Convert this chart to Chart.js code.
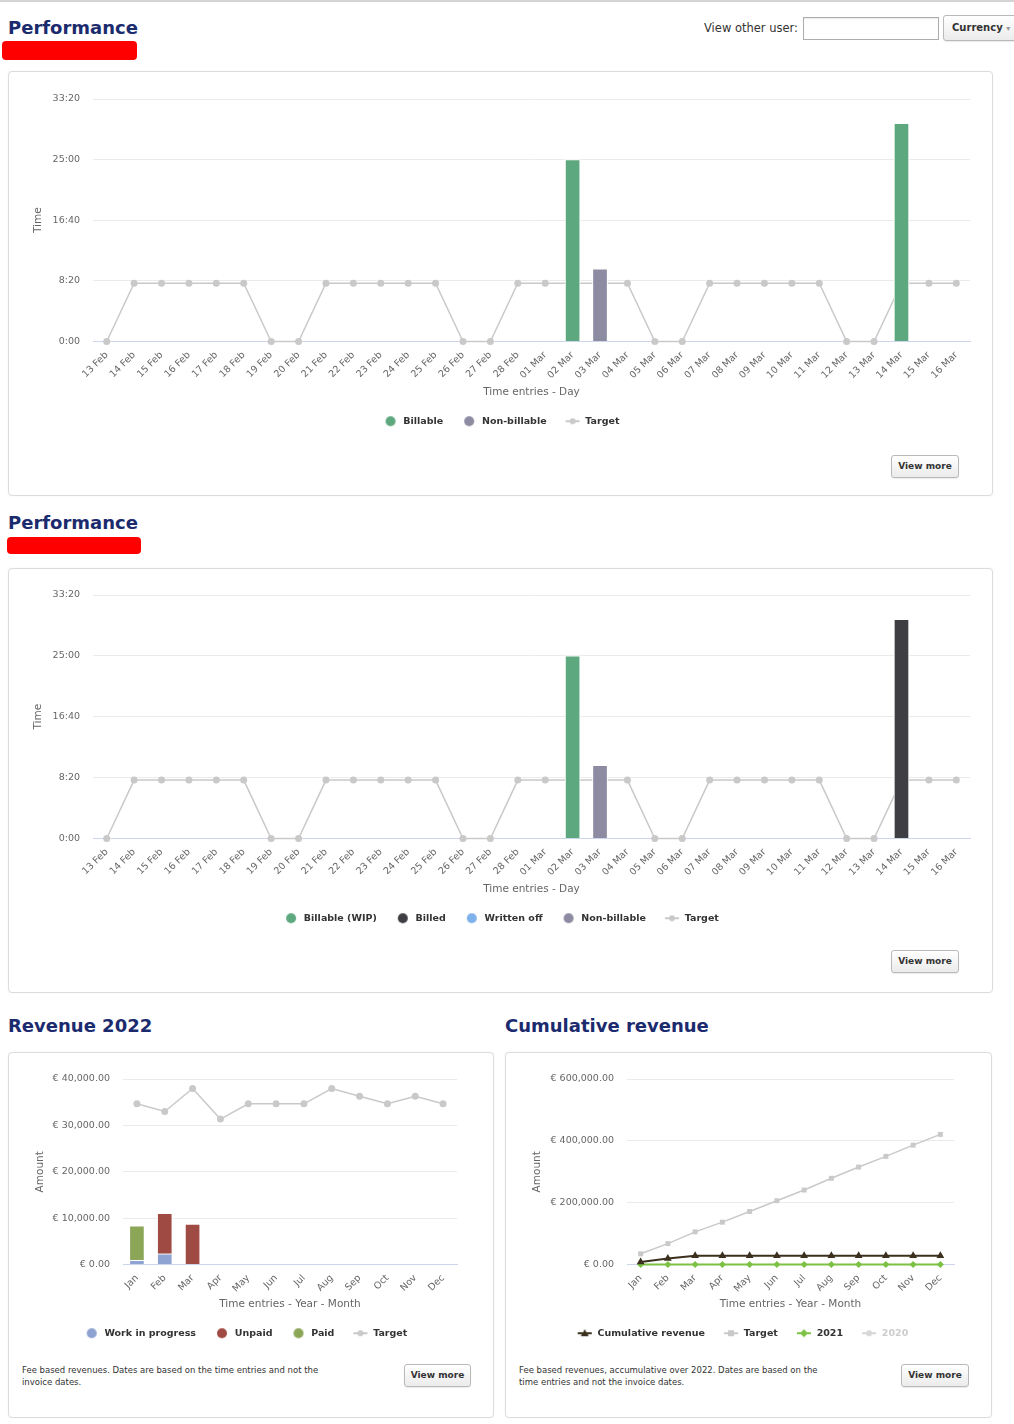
<!DOCTYPE html>
<html>
<head>
<meta charset="utf-8">
<script src="https://cdn.jsdelivr.net/npm/chart.js@4.4.1/dist/chart.umd.min.js"></script>
<style>
body { margin: 0; background: #fff; font-family: 'DejaVu Sans', sans-serif; }
#page { position: relative; width: 1014px; height: 1424px; overflow: hidden; }
.topline { position: absolute; left: 0; top: 0; width: 1014px; height: 2px; background: #d4d4d4; }
.h { position: absolute; font: bold 18px/18px 'DejaVu Sans', sans-serif; color: #1b2b6e; white-space: nowrap; }
.redact { position: absolute; background: #ff0000; border-radius: 4px; }
.panel { position: absolute; box-sizing: border-box; border: 1px solid #dcdcdc; border-radius: 4px; box-shadow: 0 0 2px rgba(0,0,0,0.06); background: #fff; }
.box { position: absolute; }
.btn { position: absolute; box-sizing: border-box; border: 1px solid #b9b9b9; border-radius: 3px; background: linear-gradient(#ffffff, #ebebeb); font: bold 9px/21px 'DejaVu Sans', sans-serif; color: #333; text-align: center; box-shadow: 0 1px 1px rgba(0,0,0,0.08); }
.note { position: absolute; font: 8.5px/12px 'DejaVu Sans', sans-serif; color: #333; white-space: nowrap; }
.lbl { position: absolute; font: 11.5px/12px 'DejaVu Sans', sans-serif; color: #333; white-space: nowrap; }
.input { position: absolute; box-sizing: border-box; border: 1px solid #acacac; background: #fff; box-shadow: inset 0 1px 1px rgba(0,0,0,0.08); }
</style>
</head>
<body>
<div id="page">
  <div class="topline"></div>

  <div class="h" style="left:8px;top:19px;">Performance</div>
  <div class="redact" style="left:2px;top:41px;width:135px;height:19px;"></div>
  <div class="lbl" style="left:704px;top:22px;">View other user:</div>
  <div class="input" style="left:803px;top:17px;width:136px;height:23px;"></div>
  <div class="btn" style="left:943px;top:15px;width:80px;height:26px;text-align:left;padding-left:8px;font-size:10px;line-height:24px;">Currency <span style="color:#999;font-size:8px;">&#9662;</span></div>

  <div class="panel" style="left:8px;top:71px;width:985px;height:425px;"></div>
  <div class="box" style="left:20px;top:85px;width:960px;height:351px;"><canvas id="perf1"></canvas></div>
  <div class="btn" style="left:891px;top:455px;width:68px;height:23px;">View more</div>

  <div class="h" style="left:8px;top:514px;">Performance</div>
  <div class="redact" style="left:7px;top:537px;width:134px;height:17px;"></div>

  <div class="panel" style="left:8px;top:568px;width:985px;height:425px;"></div>
  <div class="box" style="left:20px;top:581px;width:960px;height:352px;"><canvas id="perf2"></canvas></div>
  <div class="btn" style="left:891px;top:950px;width:68px;height:23px;">View more</div>

  <div class="h" style="left:8px;top:1017px;">Revenue 2022</div>
  <div class="h" style="left:505px;top:1017px;">Cumulative revenue</div>

  <div class="panel" style="left:8px;top:1052px;width:486px;height:366px;"></div>
  <div class="box" style="left:20px;top:1065px;width:460px;height:283px;"><canvas id="revenue"></canvas></div>
  <div class="note" style="left:22px;top:1364px;">Fee based revenues. Dates are based on the time entries and not the<br>invoice dates.</div>
  <div class="btn" style="left:404px;top:1364px;width:67px;height:23px;">View more</div>

  <div class="panel" style="left:505px;top:1052px;width:487px;height:366px;"></div>
  <div class="box" style="left:517px;top:1065px;width:460px;height:283px;"><canvas id="cumulative"></canvas></div>
  <div class="note" style="left:519px;top:1364px;">Fee based revenues, accumulative over 2022. Dates are based on the<br>time entries and not the invoice dates.</div>
  <div class="btn" style="left:901px;top:1364px;width:68px;height:23px;">View more</div>
</div>

<script>
// time values are in minutes
let days = ["13 Feb", "14 Feb", "15 Feb", "16 Feb", "17 Feb", "18 Feb", "19 Feb", "20 Feb",
    "21 Feb", "22 Feb", "23 Feb", "24 Feb", "25 Feb", "26 Feb", "27 Feb", "28 Feb",
    "01 Mar", "02 Mar", "03 Mar", "04 Mar", "05 Mar", "06 Mar", "07 Mar", "08 Mar",
    "09 Mar", "10 Mar", "11 Mar", "12 Mar", "13 Mar", "14 Mar", "15 Mar", "16 Mar"];
let dayTarget = [0, 480, 480, 480, 480, 480, 0, 0, 480, 480, 480, 480, 480, 0, 0, 480,
    480, 480, 480, 480, 0, 0, 480, 480, 480, 480, 480, 0, 0, 480, 480, 480];
let billable = [null, null, null, null, null, null, null, null, null, null, null, null, null, null, null, null,
    null, 1500, null, null, null, null, null, null, null, null, null, null, null, 1800, null, null];
let nonBillable = [null, null, null, null, null, null, null, null, null, null, null, null, null, null, null, null,
    null, null, 600, null, null, null, null, null, null, null, null, null, null, null, null, null];
let billableWip = [null, null, null, null, null, null, null, null, null, null, null, null, null, null, null, null,
    null, 1500, null, null, null, null, null, null, null, null, null, null, null, null, null, null];
let billed = [null, null, null, null, null, null, null, null, null, null, null, null, null, null, null, null,
    null, null, null, null, null, null, null, null, null, null, null, null, null, 1800, null, null];
let writtenOff = [];

let months = ["Jan", "Feb", "Mar", "Apr", "May", "Jun", "Jul", "Aug", "Sep", "Oct", "Nov", "Dec"];
let wip = [900, 2300];
let unpaid = [null, 8750, 8700];
let paid = [7450];
let monthTarget = [34650, 33000, 37950, 31350, 34650, 34650, 34650, 37950, 36300, 34650, 36300, 34650];

let cumRevenue = [8350, 19400, 28100, 28100, 28100, 28100, 28100, 28100, 28100, 28100, 28100, 28100];
let cumTarget = [34650, 67650, 105600, 136950, 171600, 206250, 240900, 278850, 315150, 349800, 386100, 420750];
let rev2021 = [0, 0, 0, 0, 0, 0, 0, 0, 0, 0, 0, 0];
let rev2020 = [];

let col = {
    billable: "#5ea87f",
    nonBillable: "#8d8ba2",
    billed: "#3e3e43",
    writtenOff: "#7eb1ea",
    target: "#c9c9c9",
    wip: "#8fa3d2",
    unpaid: "#a04a44",
    paid: "#8ca658",
    cum: "#3b301d",
    y2021: "#7cc143",
    y2020: "#d6d6d6"
};

Chart.defaults.font.family = "'DejaVu Sans', sans-serif";
Chart.defaults.animation = false;

// little legend pictures: a dot, or a line with a marker on it
function icon(color, marker, line) {
    let c = document.createElement("canvas");
    c.width = 20;
    c.height = 12;
    let g = c.getContext("2d");
    g.fillStyle = color;
    g.strokeStyle = color;
    if (line) {
        g.lineWidth = 2;
        g.beginPath();
        g.moveTo(5, 6);
        g.lineTo(19, 6);
        g.stroke();
    }
    let r = line ? 3 : 5, x = 12, y = 6;
    g.beginPath();
    if (marker == "circle") g.arc(x, y, r, 0, 2 * Math.PI);
    if (marker == "rect") g.rect(x - r, y - r, 2 * r, 2 * r);
    if (marker == "diamond") {
        g.moveTo(x, y - r - 1); g.lineTo(x + r + 1, y); g.lineTo(x, y + r + 1); g.lineTo(x - r - 1, y);
    }
    if (marker == "triangle") {
        g.moveTo(x, y - r - 1); g.lineTo(x + r + 1, y + r); g.lineTo(x - r - 1, y + r);
    }
    g.closePath();
    g.fill();
    return c;
}

function legend(icons, pad) {
    return {
        position: "bottom",
        labels: {
            usePointStyle: true,
            pointStyleWidth: 20,
            padding: pad,
            font: {size: 9.5, weight: "bold"},
            color: "#333333",
            generateLabels: chart => chart.data.datasets.map((ds, i) => ({
                text: ds.label,
                pointStyle: icons[i],
                fillStyle: "transparent",
                strokeStyle: "transparent",
                lineWidth: 0,
                hidden: false,
                fontColor: ds.legendText || "#333333",
                datasetIndex: i
            }))
        }
    };
}

function gridColor(ctx) {
    return ctx.tick && ctx.tick.value === 0 ? "#ccd6eb" : "#ebebeb";
}

function yAxis(title, max, step, fmt, width, stacked) {
    return {
        stacked: stacked,
        min: 0,
        max: max,
        ticks: {stepSize: step, callback: fmt, font: {size: 9.5}, color: "#666666", padding: 13},
        grid: {color: gridColor, drawTicks: false},
        border: {display: false},
        title: {display: true, text: title, font: {size: 10.5}, color: "#666666", padding: {top: 4, bottom: 4}},
        afterFit: s => {
            s.width = width;
            s.paddingTop = 0;
            s.paddingBottom = 0;
        }
    };
}

function xAxis(title, height, stacked) {
    return {
        stacked: stacked,
        offset: true,
        grid: {display: false, drawTicks: false},
        border: {color: "#ccd6eb", width: 1},
        ticks: {maxRotation: 45, minRotation: 45, autoSkip: false, font: {size: 9.5}, color: "#666666", padding: 8},
        title: {display: true, text: title, font: {size: 10.5}, color: "#666666", padding: {top: 4, bottom: 4}},
        afterFit: s => { s.height = height; }
    };
}

function hm(v) {
    return Math.floor(v / 60) + ":" + String(v % 60).padStart(2, "0");
}

function euro(v) {
    return "€ " + v.toLocaleString("en-US", {minimumFractionDigits: 2, maximumFractionDigits: 2});
}

function bar(label, data, color, thick) {
    return {type: "bar", label: label, data: data, backgroundColor: color, borderColor: "#ffffff",
        borderWidth: 1, barThickness: thick, order: 0};
}

function line(label, data, color, style, radius, width) {
    return {type: "line", label: label, data: data, borderColor: color, backgroundColor: color,
        borderWidth: width, pointStyle: style, pointRadius: radius, pointBackgroundColor: color,
        pointBorderColor: color, pointBorderWidth: 0, tension: 0, clip: false, order: 1};
}

function timeChart(id, datasets, icons) {
    new Chart(id, {
        type: "bar",
        data: {labels: days, datasets: datasets},
        options: {
            responsive: true,
            maintainAspectRatio: false,
            events: [],
            layout: {padding: {top: 14, left: 8, right: 10, bottom: 0}},
            scales: {
                x: xAxis("Time entries - Day", 61, true),
                y: yAxis("Time", 2000, 500, hm, 65, true)
            },
            plugins: {legend: legend(icons, 14), tooltip: {enabled: false}}
        }
    });
}

let targetIcon = icon(col.target, "circle", true);

timeChart("perf1", [
    bar("Billable", billable, col.billable, 15),
    bar("Non-billable", nonBillable, col.nonBillable, 15),
    line("Target", dayTarget, col.target, "circle", 3.5, 1.5)
], [icon(col.billable, "circle"), icon(col.nonBillable, "circle"), targetIcon]);

timeChart("perf2", [
    bar("Billable (WIP)", billableWip, col.billable, 15),
    bar("Billed", billed, col.billed, 15),
    bar("Written off", writtenOff, col.writtenOff, 15),
    bar("Non-billable", nonBillable, col.nonBillable, 15),
    line("Target", dayTarget, col.target, "circle", 3.5, 1.5)
], [icon(col.billable, "circle"), icon(col.billed, "circle"), icon(col.writtenOff, "circle"),
    icon(col.nonBillable, "circle"), targetIcon]);

new Chart("revenue", {
    type: "bar",
    data: {
        labels: months,
        datasets: [
            bar("Work in progress", wip, col.wip, 15),
            bar("Unpaid", unpaid, col.unpaid, 15),
            bar("Paid", paid, col.paid, 15),
            line("Target", monthTarget, col.target, "circle", 3.5, 1.5)
        ]
    },
    options: {
        responsive: true,
        maintainAspectRatio: false,
        events: [],
        layout: {padding: {top: 14, left: 10, right: 23, bottom: 0}},
        scales: {
            x: xAxis("Time entries - Year - Month", 50, true),
            y: yAxis("Amount", 40000, 10000, euro, 93, true)
        },
        plugins: {
            legend: legend([icon(col.wip, "circle"), icon(col.unpaid, "circle"), icon(col.paid, "circle"), targetIcon], 14),
            tooltip: {enabled: false}
        }
    }
});

let hidden2020 = line("2020", rev2020, col.y2020, "circle", 3.5, 1.5);
hidden2020.hidden = true;
hidden2020.legendText = "#cccccc";

let cum2021 = line("2021", rev2021, col.y2021, "rectRot", 3.5, 2);
cum2021.order = 2;

new Chart("cumulative", {
    type: "line",
    data: {
        labels: months,
        datasets: [
            line("Cumulative revenue", cumRevenue, col.cum, "triangle", 4.5, 2),
            line("Target", cumTarget, col.target, "rect", 3.5, 1.5),
            cum2021,
            hidden2020
        ]
    },
    options: {
        responsive: true,
        maintainAspectRatio: false,
        events: [],
        layout: {padding: {top: 14, left: 10, right: 23, bottom: 0}},
        scales: {
            x: xAxis("Time entries - Year - Month", 50, false),
            y: yAxis("Amount", 600000, 200000, euro, 100, false)
        },
        plugins: {
            legend: legend([icon(col.cum, "triangle", true), icon(col.target, "rect", true),
                icon(col.y2021, "diamond", true), icon(col.y2020, "circle", true)], 14),
            tooltip: {enabled: false}
        }
    }
});
</script>
</body>
</html>
